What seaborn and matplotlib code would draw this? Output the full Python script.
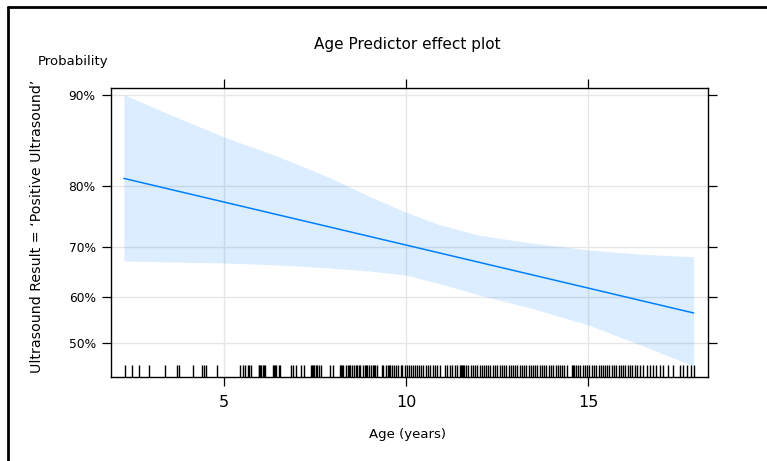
import numpy as np
import pandas as pd
import matplotlib
matplotlib.use("Agg")
import matplotlib.pyplot as plt
from matplotlib.lines import Line2D
from matplotlib.ticker import FixedLocator, NullLocator, FixedFormatter
import seaborn as sns

sns.set_theme(style="white")
plt.rcParams["font.family"] = ["DejaVu Sans"]
plt.rcParams["text.color"] = "black"
plt.rcParams["axes.labelcolor"] = "black"
plt.rcParams["xtick.color"] = "black"
plt.rcParams["ytick.color"] = "black"

# fitted probability (straight on the logit scale)
fit_age = [2.25, 17.9]
fit_prob = [0.811, 0.566]

# 95% confidence band
band_age = [2.25, 3.52, 5.0, 6.54, 7.91, 9.01, 10.0, 10.93, 12.0, 13.41, 15.0, 16.43, 17.9]
band_upper = [0.900, 0.883, 0.861, 0.838, 0.812, 0.785, 0.761, 0.740, 0.722, 0.708, 0.695, 0.687, 0.682]
band_lower = [0.674, 0.672, 0.670, 0.666, 0.660, 0.654, 0.646, 0.628, 0.605, 0.577, 0.540, 0.496, 0.449]

# observed ages (rug)
rug_ages = [
    2.28, 2.48, 2.66, 2.94, 3.38, 3.71, 3.76, 4.14, 4.40, 4.45, 4.51, 4.80,
    5.44, 5.51, 5.59, 5.66, 5.70, 5.74, 5.95, 5.97, 6.00, 6.03, 6.06, 6.10, 6.13,
    6.35, 6.38, 6.41, 6.44, 6.50, 6.54, 6.83, 6.90, 6.98, 7.11, 7.20, 7.38, 7.41,
    7.44, 7.48, 7.52, 7.55, 7.60, 7.66, 7.91, 8.00,
    8.19, 8.22, 8.25, 8.28, 8.35, 8.41, 8.44, 8.47, 8.52, 8.57, 8.63, 8.66, 8.70,
    8.74, 8.81, 8.87, 8.90, 8.93, 8.98, 9.04, 9.10, 9.13, 9.15, 9.20,
    9.33, 9.38, 9.44, 9.50, 9.53, 9.55, 9.61, 9.66, 9.72, 9.79, 9.85, 9.90, 9.96,
    10.02, 10.08, 10.13, 10.19, 10.25, 10.31, 10.37, 10.42, 10.48, 10.55, 10.61,
    10.67, 10.73, 10.80, 10.86, 10.93,
    11.07, 11.13, 11.21, 11.27, 11.34, 11.39,
    11.48, 11.51, 11.53, 11.56, 11.60, 11.66, 11.71, 11.78, 11.84, 11.90, 11.96,
    12.02, 12.08, 12.14, 12.20, 12.26, 12.32, 12.38, 12.45, 12.51, 12.57, 12.63,
    12.69, 12.76, 12.82, 12.88,
    12.94, 13.00, 13.06, 13.12, 13.18, 13.24, 13.31, 13.37, 13.43, 13.49, 13.55,
    13.61, 13.67, 13.74, 13.80, 13.86, 13.92, 13.98, 14.04, 14.11, 14.17, 14.23,
    14.29, 14.35, 14.41,
    14.55, 14.58, 14.61, 14.67, 14.73, 14.79, 14.86, 14.92, 14.98, 15.04, 15.10,
    15.16, 15.22, 15.29, 15.35, 15.41, 15.47, 15.53, 15.59, 15.66, 15.72, 15.78,
    15.84, 15.90, 15.97, 16.03, 16.09, 16.15, 16.22, 16.29, 16.36, 16.44, 16.52,
    16.61, 16.70, 16.78, 16.86, 16.98,
    17.07, 17.20, 17.34, 17.53, 17.62, 17.71, 17.82, 17.91,
]

x_ticks = [5, 10, 15]
y_ticks = [0.5, 0.6, 0.7, 0.8, 0.9]
y_tick_labels = ["50%", "60%", "70%", "80%", "90%"]

W, H = 767, 461
fig = plt.figure(figsize=(W / 100, H / 100), dpi=100)
ax = fig.add_axes([111 / W, 1 - 377 / H, (708 - 111) / W, (377 - 88) / H])

ax.set_yscale("logit")
ax.set_xlim(1.896, 18.297)
ax.set_ylim(0.4253, 0.9052)

# grid
for xv in x_ticks:
    ax.axvline(xv, color="#e6e6e6", lw=1.0, zorder=0)
for yv in y_ticks:
    ax.axhline(yv, color="#e6e6e6", lw=1.0, zorder=0)

blue = "#0080FF"
ax.fill_between(band_age, band_lower, band_upper, color=blue, alpha=0.14,
                linewidth=0, zorder=1)
fit_df = pd.DataFrame({"age": fit_age, "prob": fit_prob})
sns.lineplot(data=fit_df, x="age", y="prob", color=blue, lw=1.1, ax=ax, zorder=3)
sns.rugplot(x=rug_ages, height=0.042, color="black", lw=1.0, ax=ax, zorder=2,
            expand_margins=False)

ax.set_xlim(1.896, 18.297)
ax.set_ylim(0.4253, 0.9052)

ax.xaxis.set_major_locator(FixedLocator(x_ticks))
ax.xaxis.set_minor_locator(NullLocator())
ax.yaxis.set_major_locator(FixedLocator(y_ticks))
ax.yaxis.set_major_formatter(FixedFormatter(y_tick_labels))
ax.yaxis.set_minor_locator(NullLocator())
ax.yaxis.set_minor_formatter(FixedFormatter([]))

ax.tick_params(axis="both", which="major", direction="out", length=6.5,
               width=0.9, color="black", labelcolor="black", bottom=True,
               top=True, left=True, right=True, labelbottom=True,
               labeltop=False, labelleft=True, labelright=False)
ax.tick_params(axis="x", labelsize=11.5, pad=6.5)
ax.tick_params(axis="y", labelsize=8.8, pad=4.5)
for sp in ax.spines.values():
    sp.set_visible(True)
    sp.set_color("black")
    sp.set_linewidth(1.0)

ax.set_xlabel("Age (years)", fontsize=9.5, color="black")
ax.xaxis.set_label_coords(0.4966, -0.175)
ax.set_ylabel("Ultrasound Result = \u2018Positive Ultrasound\u2019", fontsize=10.2,
              color="black")
ax.yaxis.set_label_coords(-0.112, 0.52)

fig.text(407 / W, 1 - 44 / H, "Age Predictor effect plot", ha="center",
         va="center", fontsize=11, color="black")
fig.text(38 / W, 1 - 61 / H, "Probability", ha="left", va="center",
         fontsize=9.5, color="black")

# outer frame (top and left edges)
fig.add_artist(Line2D([8 / W, 1.0], [1 - 7 / H, 1 - 7 / H],
                      transform=fig.transFigure, color="black", lw=2.0))
fig.add_artist(Line2D([8 / W, 8 / W], [1 - 7 / H, 0.0],
                      transform=fig.transFigure, color="black", lw=2.0))

fig.savefig("out.png", dpi=100)
